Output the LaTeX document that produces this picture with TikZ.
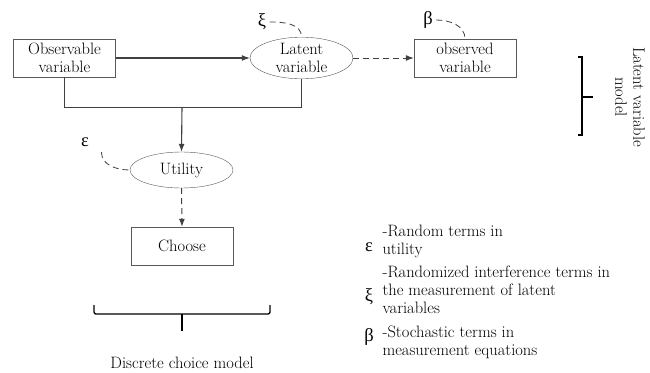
\documentclass[tikz,border=0pt]{standalone}
\usepackage{fontspec}
\newfontfamily\grk{Liberation Serif}
\usetikzlibrary{shapes.geometric,arrows.meta}
\begin{document}
\begin{tikzpicture}[x=1pt,y=1pt,font=\fontsize{16.5}{18}\selectfont,
  varbox/.style={draw=black!65,rectangle,minimum width=102pt,minimum height=38pt,align=center,inner sep=1pt},
  varoval/.style={draw=black!65,ellipse,minimum width=103pt,minimum height=40pt,align=center,inner sep=0pt},
  link/.style={draw=black!75,line width=1.1pt,-{Latex[length=8pt,width=6pt]}},
  dlink/.style={draw=black!75,line width=1pt,dash pattern=on 6pt off 4pt,-{Latex[length=8pt,width=6pt]}},
  noise/.style={draw=black!75,line width=0.8pt,dash pattern=on 6pt off 4pt},
  sym/.style={font=\grk\fontsize{18.5}{19}\selectfont},
  brk/.style={line width=1.3pt}]

\useasboundingbox (0,0) rectangle (650,-372);

\node[varbox] (obs) at (64.5,-58) {Observable\\variable};
\node[varoval] (lat) at (301.5,-58) {Latent\\variable};
\node[varbox] (meas) at (465,-58) {observed\\variable};
\node[varoval,minimum height=36pt] (util) at (181.5,-170) {Utility};
\node[varbox] (choose) at (182,-246) {Choose};

\node[sym] (xi) at (262,-22) {ξ};
\node[sym] (beta) at (428,-20) {β};
\node[sym] (eps) at (85,-142) {ε};

\draw[link] (obs.east) -- (lat.west);
\draw[dlink] (lat.east) -- (meas.west);
\draw[draw=black!75,line width=1.1pt] (obs.south) -- ++(0,-30) -| (lat.south);
\coordinate (jn) at (182,-107);
\draw[link] (jn) -- (util.north);
\draw[dlink] (util.south) -- (choose.north);

\draw[noise] (xi.east) to[out=0,in=90] (lat.north);
\draw[noise] (beta.east) to[out=0,in=90] (meas.north);
\draw[noise] ([xshift=9pt,yshift=-2pt]eps.south east) to[out=-90,in=180] (util.west);

\begin{scope}[brk]
\draw (578,-57) -- (582,-57) -- (582,-135) -- (578,-135);
\draw (582,-97) -- (593,-97);
\draw[rounded corners=2pt] (94,-305) -- (94,-314) -- (270,-314) -- (270,-305);
\draw (182,-314) -- (182,-331);
\end{scope}

\node[rotate=-90,align=center,inner sep=1pt] (lvm) at (630,-97) {Latent variable\\model};
\node (dcm) at (182,-363) {Discrete choice model};

\node[sym] (leps) at (369,-247) {ε};
\node[sym] (lxi) at (369,-297) {ξ};
\node[sym] (lbeta) at (369,-337) {β};
\node[anchor=west,align=left] (teps) at (379,-241) {-Random terms in\\utility};
\node[anchor=west,align=left] (txi) at (379,-290) {-Randomized interference terms in\\the measurement of latent\\variables};
\node[anchor=west,align=left] (tbeta) at (379,-342) {-Stochastic terms in\\measurement equations};
\end{tikzpicture}
\end{document}
